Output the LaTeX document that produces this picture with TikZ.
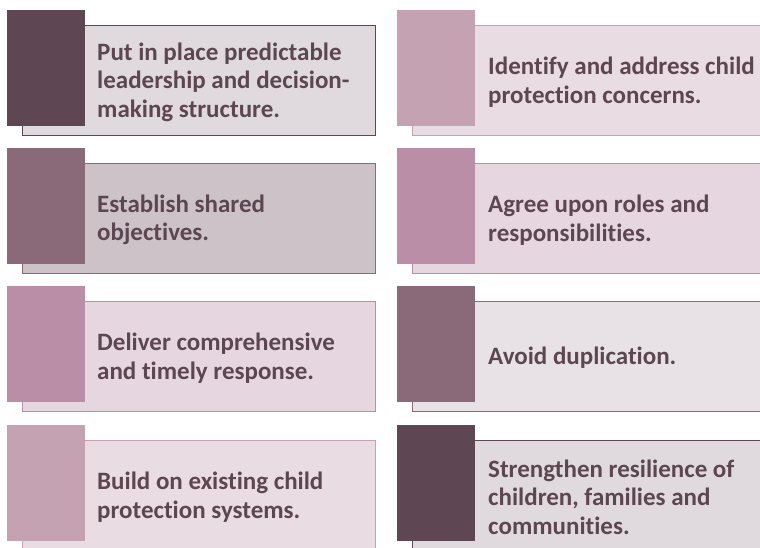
\documentclass[tikz,border=0pt]{standalone}
\usepackage{fontspec}
\setmainfont{Carlito}[Ligatures=NoCommon]
\definecolor{txt}{HTML}{5C4652}
\definecolor{sqA}{HTML}{5E4753}
\definecolor{bgA}{HTML}{E0DADE}
\definecolor{sqB}{HTML}{8A6A79}
\definecolor{bgB}{HTML}{CEC2C9}
\definecolor{sqC}{HTML}{B98EA6}
\definecolor{bgC}{HTML}{E6D6DF}
\definecolor{sqD}{HTML}{C4A2B2}
\definecolor{bgD}{HTML}{E9DCE3}
\definecolor{bgE}{HTML}{E8E2E6}
\tikzset{
  panel/.style={draw=#1, line width=1pt, anchor=north west, minimum height=110pt, inner sep=0pt},
  tab/.style={fill=#1, draw=none, anchor=north west, minimum width=78pt, minimum height=116pt, inner sep=0pt},
  label/.style={anchor=west, align=left, text=txt, font=\fontsize{25}{28.5}\selectfont\bfseries, inner sep=0pt}
}
\newcommand\cardbox[9]{%
  % #1 x, #2 y, #3 panel width, #4 tab colour, #5 panel fill, #6 border colour, #7 name, #8 text x, #9 text
  \node[panel=#6, fill=#5, minimum width=#3pt] (#7p) at (#1+15,#2+15) {};
  \node[tab=#4] (#7t) at (#1,#2) {};
  \node[label] (#7l) at (#8,#2+72) {#9};
}
\begin{document}
\begin{tikzpicture}[x=1pt,y=-1pt]
\useasboundingbox (0,0) rectangle (760,547);
\clip (0,0) rectangle (760,547);
\fill[white] (0,0) rectangle (760,547);
\cardbox{7}{10}{353}{sqA}{bgA}{sqA}{l1}{97}{Put in place predictable\\leadership and decision-\\making structure.}
\cardbox{7}{148}{353}{sqB}{bgB}{sqB}{l2}{97}{Establish shared\\objectives.}
\cardbox{7}{286}{353}{sqC}{bgC}{sqC}{l3}{97}{Deliver comprehensive\\and timely response.}
\cardbox{7}{425}{353}{sqD}{bgD}{sqD}{l4}{97}{Build on existing child\\protection systems.}
\cardbox{397}{10}{380}{sqD}{bgD}{sqD}{r1}{488}{Identify and address child\\protection concerns.}
\cardbox{397}{148}{380}{sqC}{bgC}{sqC}{r2}{488}{Agree upon roles and\\responsibilities.}
\cardbox{397}{286}{380}{sqB}{bgE}{sqB}{r3}{488}{Avoid duplication.}
\cardbox{397}{425}{380}{sqA}{bgA}{sqA}{r4}{488}{Strengthen resilience of\\children, families and\\communities.}
\end{tikzpicture}
\end{document}
